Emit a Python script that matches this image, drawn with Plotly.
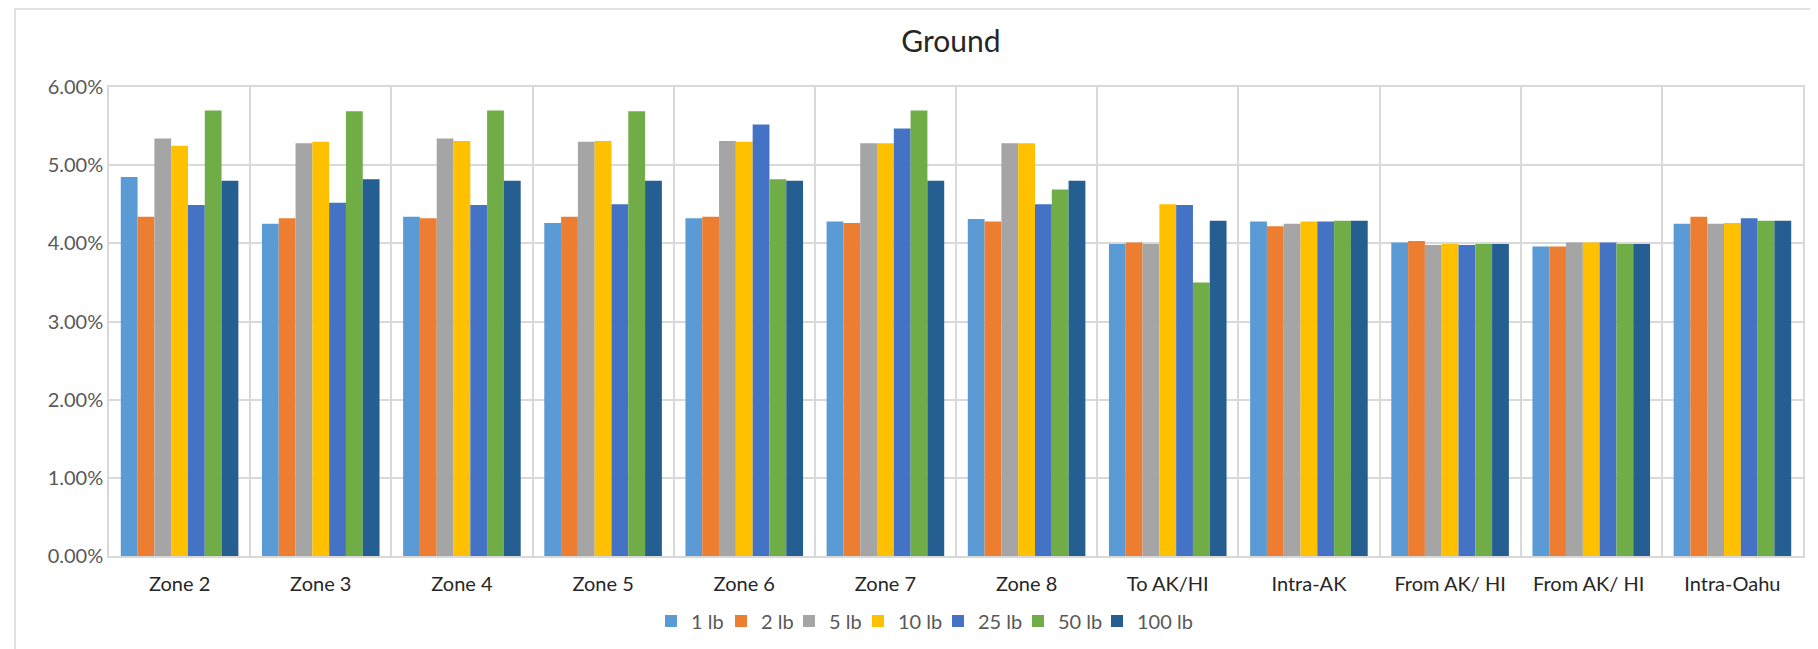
import plotly.graph_objects as go

categories = ["Zone 2", "Zone 3", "Zone 4", "Zone 5", "Zone 6", "Zone 7", "Zone 8",
              "To AK/HI", "Intra-AK", "From AK/ HI", "From AK/ HI ", "Intra-Oahu"]
series_names = ["1 lb", "2 lb", "5 lb", "10 lb", "25 lb", "50 lb", "100 lb"]

lb1   = [4.85, 4.25, 4.34, 4.26, 4.32, 4.28, 4.31, 3.99, 4.28, 4.01, 3.96, 4.25]
lb2   = [4.34, 4.32, 4.32, 4.34, 4.34, 4.26, 4.28, 4.01, 4.22, 4.03, 3.96, 4.34]
lb5   = [5.34, 5.28, 5.34, 5.30, 5.31, 5.28, 5.28, 3.99, 4.25, 3.98, 4.01, 4.25]
lb10  = [5.25, 5.30, 5.31, 5.31, 5.30, 5.28, 5.28, 4.50, 4.28, 3.99, 4.01, 4.26]
lb25  = [4.49, 4.52, 4.49, 4.50, 5.52, 5.47, 4.50, 4.49, 4.28, 3.98, 4.01, 4.32]
lb50  = [5.70, 5.69, 5.70, 5.69, 4.82, 5.70, 4.69, 3.50, 4.29, 3.99, 3.99, 4.29]
lb100 = [4.80, 4.82, 4.80, 4.80, 4.80, 4.80, 4.80, 4.29, 4.29, 3.99, 3.99, 4.29]

series_values = [lb1, lb2, lb5, lb10, lb25, lb50, lb100]
colors = ["#5B9BD5", "#ED7D31", "#A5A5A5", "#FFC000", "#4472C4", "#70AD47", "#255E91"]

y_ticks = [0, 0.01, 0.02, 0.03, 0.04, 0.05, 0.06]

W, H = 1818, 649
ML, MR, MT, MB = 101, 23, 79, 101
PW, PH = W - ML - MR, H - MT - MB

# legend swatch centres (px) – layout only
legend_px = [663, 733, 801, 870, 950, 1030, 1109]
LEGEND_Y = 613

FONT = "Lato"
fig = go.Figure()
legend_layouts = {}
for i, (name, vals, col) in enumerate(zip(series_names, series_values, colors)):
    key = "legend" if i == 0 else f"legend{i + 1}"
    fig.add_trace(go.Bar(
        x=categories, y=[v / 100 for v in vals], name=name,
        marker=dict(color=col, line=dict(width=0)),
        legend=key,
    ))
    legend_layouts[key] = dict(
        orientation="h", x=(legend_px[i] - 20 - ML) / PW, xanchor="left",
        y=-(LEGEND_Y - (H - MB)) / PH, yanchor="middle",
        font=dict(family=FONT, size=20, color="#595959"),
        bgcolor="rgba(0,0,0,0)", borderwidth=0,
    )

fig.update_layout(
    width=W, height=H,
    margin=dict(l=ML, r=MR, t=MT, b=MB, pad=0),
    paper_bgcolor="white", plot_bgcolor="white",
    barmode="group", bargap=0.167, bargroupgap=0,
    font=dict(family=FONT, size=20, color="#595959"),
    title=dict(text="Ground", x=0.497, xref="paper", xanchor="center",
               y=1 - 33 / H, yref="container", yanchor="middle",
               font=dict(family=FONT, size=30, color="#262626")),
    showlegend=True,
    **legend_layouts,
)
fig.update_xaxes(
    type="category", tickson="boundaries",
    showgrid=True, gridcolor="#D9D9D9", gridwidth=1.5,
    showline=True, linecolor="#D9D9D9", linewidth=1.5, mirror=True,
    ticks="", ticklabelstandoff=9,
    tickfont=dict(family=FONT, size=20, color="#262626"),
)
fig.update_yaxes(
    range=[0, 0.06], tickvals=y_ticks, tickformat=".2%",
    showgrid=True, gridcolor="#D9D9D9", gridwidth=1.5,
    showline=True, linecolor="#D9D9D9", linewidth=1.5, mirror=True,
    zeroline=False, ticks="",
    tickfont=dict(family=FONT, size=20, color="#595959"),
)
# outer chart border
fig.add_shape(type="rect", xref="paper", yref="paper",
              x0=(7 - ML) / PW, x1=(1814 - ML) / PW,
              y0=((H - MB) - 647) / PH, y1=((H - MB) - 1) / PH,
              line=dict(color="#D9D9D9", width=1.5), layer="below")

fig.write_html("out.html")
